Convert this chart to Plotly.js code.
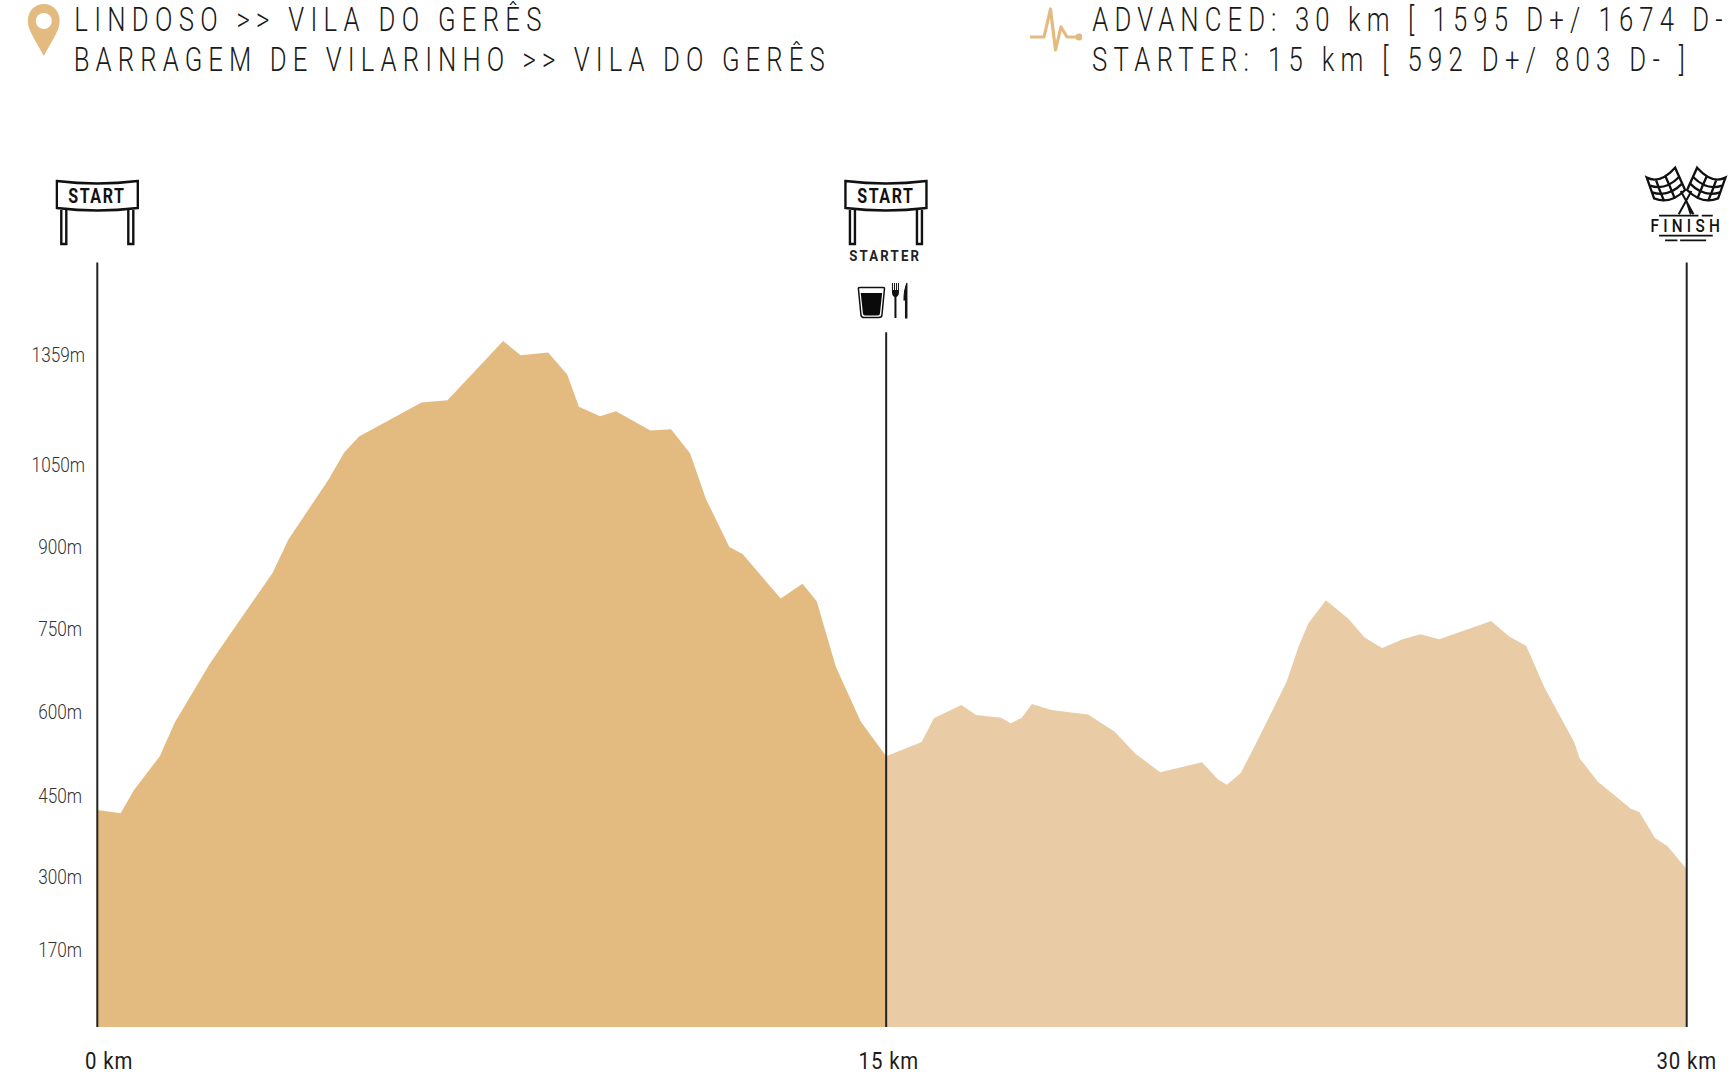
<!DOCTYPE html>
<html><head><meta charset="utf-8">
<script src="https://cdn.plot.ly/plotly-3.0.1.min.js"></script>
<style>html,body{margin:0;padding:0;background:#fff}#chart{width:1734px;height:1083px}</style>
</head><body><div id="chart"></div>
<script>
// Elevation profile
const advancedKm = [0,0.44,0.69,1.18,1.46,2.12,2.44,3.31,3.61,4.36,4.66,4.94,6.12,6.61,7.66,7.99,8.51,8.87,9.09,9.49,9.79,10.44,10.83,11.19,11.49,11.93,12.18,12.90,13.31,13.58,13.94,14.41,14.89];
const advancedM = [421,415,457,519,580,687,732,853,914,1022,1072,1101,1163,1167,1275,1249,1254,1214,1155,1138,1147,1112,1114,1070,987,900,887,806,833,801,682,582,519];
const starterKm = [14.89,15.56,15.79,16.31,16.59,17.06,17.24,17.45,17.64,18.01,18.70,19.20,19.59,20.06,20.85,21.16,21.32,21.58,21.87,22.45,22.68,22.86,23.19,23.62,23.92,24.25,24.64,24.97,25.33,26.31,26.65,26.97,27.32,27.88,27.98,28.32,28.94,29.11,29.40,29.64,30];
const starterM = [519,545,588,612,594,589,579,589,614,603,595,564,524,490,508,476,467,488,542,655,720,761,803,769,735,716,732,741,732,765,737,720,643,544,515,473,424,417,370,355,313];
const yTickVals = [166,299,447,599,751,899,1050,1249];
const yTickText = ['170m','300m','450m','600m','750m','900m','1050m','1359m'];
const xTickVals = [0,14.94,30];
const xTickText = ['\u00A0\u00A0\u00A0\u00A00 km','15 km','30 km'];
const markerKm = [0,14.89,30];
const markerTop = [1418,1291,1418];
const headerLeft = ['LINDOSO >> VILA DO GERÊS','BARRAGEM DE VILARINHO >> VILA DO GERÊS'];
const headerRight = ['ADVANCED: 30 km [ 1595 D+/ 1674 D-','STARTER: 15 km [ 592 D+/ 803 D- ]'];

const W=1734,H=1083,L=92.2,R=42.1,T=262,B=56;
const pw=W-L-R, ph=H-T-B;
const fx=p=>(p-L)/pw, fy=p=>1-(p-T)/ph;
const FONT='Roboto,"Liberation Sans",sans-serif';
const GOLD='#e3bb80', SAND='#e9cca5', INK='#1c1c1c';

function svgImg(inner,vb,x,y,w,h){
  const s='<svg xmlns="http://www.w3.org/2000/svg" viewBox="'+vb+'" width="'+w+'" height="'+h+'">'+inner+'</svg>';
  return {source:'data:image/svg+xml,'+encodeURIComponent(s),xref:'paper',yref:'paper',x:fx(x),y:fy(y),
    sizex:w/pw,sizey:h/ph,xanchor:'left',yanchor:'top',sizing:'stretch',layer:'above'};
}
const pin='<path fill="'+GOLD+'" d="M16 0C7 0 0 7 0 17C0 27 10 40 16 52C22 40 32 27 32 17C32 7 25 0 16 0Z"/><circle cx="16" cy="17" r="8" fill="#fff"/>';
const pulse='<path fill="none" stroke="'+GOLD+'" stroke-width="3.2" stroke-linejoin="round" d="M0 30H14L20.500 2L25.500 43L31 20L37 30H50"/><circle cx="49" cy="30" r="3.600" fill="'+GOLD+'"/>';
const banner='<g fill="none" stroke="#111" stroke-width="2.400"><path d="M1.500 3Q42 8 82.500 3V30Q42 35 1.500 30Z"/><path d="M6 32V66H11V32M73 32V66H78V32"/></g>';
const cup='<path d="M1.500 3Q1 1.500 3 1.500H26Q28 1.500 27.500 3L25 29Q24.800 31.500 22 31.500H7Q4.500 31.500 4 29Z" fill="none" stroke="#111" stroke-width="1.500"/><path d="M3.800 7H25.200L23 27.500Q22.800 29.500 21 29.500H8Q6.200 29.500 6 27.500Z" fill="#0a0a0a"/>';
const cutlery='<path d="M1 1V10Q1 14 3.500 15V36H5.500V15Q8 14 8 10V1H7V8H6V1H5V8H4V1H3V8H2V1Z" fill="#111"/><path d="M16 36V1Q13 8 13 18H14.500V36Z" fill="#111" stroke="#111" stroke-width="1"/>';
const halfFlag='<g fill="none" stroke="#111" stroke-width="7"><path d="M50 68Q90 88 135 38L165 105Q120 150 72 130Z" fill="#fff"/><path d="M78 76Q90 110 102 138M106 64Q120 95 134 130"/><path d="M60 92Q105 108 147 66M66 112Q115 128 156 86"/></g>';
const flags=halfFlag+'<g transform="translate(336,0) scale(-1,1)">'+halfFlag+'</g>'+
 '<g fill="none" stroke="#111" stroke-width="6"><path d="M152 108L190 178M184 108L146 178M170 140L182 178"/></g>'+
 '<g stroke="#111" stroke-width="5"><path d="M87 182H205M215 182H248M87 242H248M105 256H142M150 256H228"/></g>';

const images=[
  svgImg(pin,'0 0 32 52',28,4,32,52),
  svgImg(pulse,'0 0 52 45',1030,7,52,45),
  svgImg(banner,'0 0 84 68',55.500,178,84,68),
  svgImg(banner,'0 0 84 68',844,178,84,68),
  svgImg(cup,'0 0 29 33',857,286,29,33),
  svgImg(cutlery,'0 0 18 38',891,282,18,38),
  svgImg(flags,'42 30 252 240',1644,165,84,80)
];
function label(text,x,y,size,weight,color){
  return {text:text,xref:'paper',yref:'paper',x:fx(x),y:fy(y),showarrow:false,xanchor:'center',yanchor:'middle',
    font:{family:FONT,size:size,color:color,weight:weight},borderpad:0,borderwidth:0};
}
const spacing=[8.05,7.8,7.8,8.1,2,2,2.5,5];
const squeeze=[.78,.78,.78,.78,.8,.8,.88,.85];
const annotations=[
  label(headerLeft[0],311,19,33,300,'#1a1a1a'),
  label(headerLeft[1],452.5,59,33,300,'#1a1a1a'),
  label(headerRight[0],1410,19,33,300,'#1a1a1a'),
  label(headerRight[1],1391.5,59,33,300,'#1a1a1a'),
  label('START',97.5,196,20,700,'#111'),
  label('START',886,196,20,700,'#111'),
  label('STARTER',885.500,256,15,700,'#222'),
  label('FINISH',1687,226,18,500,'#111')
];
const shapes=markerKm.map((k,i)=>({type:'line',xref:'x',yref:'y',x0:k,x1:k,y0:26,y1:markerTop[i],layer:'above',line:{color:'#222',width:2}}));
const traces=[
 {x:starterKm,y:starterM,name:'Starter',type:'scatter',mode:'lines',fill:'tozeroy',fillcolor:SAND,line:{color:SAND,width:0},hoverinfo:'x+y'},
 {x:advancedKm,y:advancedM,name:'Advanced',type:'scatter',mode:'lines',fill:'tozeroy',fillcolor:GOLD,line:{color:GOLD,width:0},hoverinfo:'x+y'}
];
const layout={
 width:W,height:H,margin:{l:L,r:R,t:T,b:B,pad:0},paper_bgcolor:'#fff',plot_bgcolor:'#fff',showlegend:false,
 xaxis:{range:[-0.1,30.1],tickmode:'array',tickvals:xTickVals,ticktext:xTickText,showgrid:false,zeroline:false,showline:false,
   ticks:'outside',ticklen:12,tickcolor:'rgba(0,0,0,0)',tickangle:0,tickfont:{family:FONT,size:24,color:INK,weight:400}},
 yaxis:{range:[26,1418.7],tickmode:'array',tickvals:yTickVals,ticktext:yTickText,showgrid:false,zeroline:false,showline:false,
   ticks:'outside',ticklen:5,tickcolor:'rgba(0,0,0,0)',tickfont:{family:FONT,size:20,color:'#333',weight:300}},
 images:images,annotations:annotations,shapes:shapes
};
function squeezeText(t,s,dx){
  const x=t.getAttribute('x')||'0', old=t.getAttribute('transform')||'';
  t.setAttribute('transform',old+' translate('+(parseFloat(x)+(dx||0))+',0) scale('+s+',1) translate('+(-parseFloat(x))+',0)');
}
Plotly.newPlot('chart',traces,layout,{displayModeBar:false,responsive:false}).then(()=>{
  document.querySelectorAll('.annotation-text').forEach((t,i)=>{
    t.style.letterSpacing=spacing[i]+'px';
    squeezeText(t,squeeze[i]);
  });
  document.querySelectorAll('.ytick text').forEach(t=>squeezeText(t,.86,t.textContent.length>4?3:0));
  document.querySelectorAll('.xtick text').forEach(t=>{t.style.letterSpacing='1px';squeezeText(t,.85);});
});
</script></body></html>
